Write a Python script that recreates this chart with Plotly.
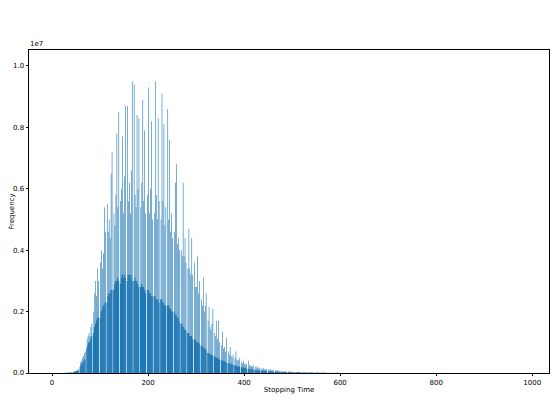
import plotly.graph_objects as go

# stopping time histogram, one value per integer stopping time (in units of 1e5)
# each row is one "tooth" of 14 stopping times, last two are the empty gap
freq_1e5 = [
    0.01, 0.02, 0.01, 0.02, 0.02, 0.03, 0.02, 0.03, 0.03, 0.04, 0.03, 0.05, 0, 0,
    0.05, 0.08, 0.06, 0.1, 0.07, 0.12, 0.08, 0.14, 0.1, 0.16, 0.12, 0.2, 0, 0,
    0.3, 0.5, 0.35, 0.6, 0.4, 0.7, 0.5, 0.8, 0.6, 1.0, 0.7, 1.2, 0, 0,
    2, 3.5, 2.5, 4, 3, 5, 3.5, 5.5, 4, 6.5, 4.5, 7, 0, 0,
    8, 11, 9, 12, 10, 13, 10, 12, 11, 15, 12, 16, 0, 0,
    13, 20, 15, 26, 16, 30, 17, 25, 18, 34, 18, 30, 0, 0,
    18, 36, 20, 40, 21, 34, 22, 39, 22, 54, 23, 46, 0, 0,
    23, 55, 25, 46, 26, 50, 26, 44, 27, 65, 27, 72, 0, 0,
    27, 52, 29, 48, 30, 58, 30, 78, 31, 54, 30, 85, 0, 0,
    29, 56, 31, 60, 32, 77, 31, 52, 32, 64, 31, 87, 0, 0,
    30, 87, 32, 56, 32, 62, 31, 52, 32, 66, 30, 95, 0, 0,
    30, 94, 31, 58, 30, 54, 30, 84, 29, 60, 28, 83, 0, 0,
    28, 54, 29, 62, 28, 89, 28, 56, 27, 79, 26, 52, 0, 0,
    27, 58, 27, 93, 26, 52, 26, 60, 25, 82, 25, 50, 0, 0,
    25, 52, 25, 95, 24, 58, 24, 50, 24, 83, 23, 56, 0, 0,
    24, 50, 24, 91, 23, 56, 23, 81, 22, 48, 22, 54, 0, 0,
    22, 86, 22, 50, 21, 76, 21, 46, 20, 52, 20, 44, 0, 0,
    20, 46, 19, 62, 19, 68, 18, 42, 18, 44, 17, 40, 0, 0,
    16, 40, 16, 38, 15, 62, 15, 38, 14, 44, 14, 36, 0, 0,
    13, 34, 13, 47, 12, 34, 12, 32, 12, 44, 11, 32, 0, 0,
    11, 36, 11, 28, 10, 28, 10, 38, 10, 26, 9.5, 30, 0, 0,
    9, 24, 8.5, 22, 8.5, 31, 8, 20, 8, 22, 7.5, 26, 0, 0,
    6.5, 17, 6.5, 21.5, 6, 15, 6, 14, 6, 16, 5.5, 21, 0, 0,
    5.5, 13, 5, 12, 5, 17, 5, 11, 4.5, 17, 4.5, 10, 0, 0,
    4.2, 9, 4, 13.5, 4, 8, 3.8, 8.5, 3.6, 7, 3.5, 11.5, 0, 0,
    3.2, 7, 3, 6, 3, 8.5, 3, 5.5, 2.8, 5, 2.7, 6, 0, 0,
    2.5, 5, 2.4, 7, 2.3, 4.5, 2.2, 4, 2.1, 4.2, 2, 5, 0, 0,
    1.9, 3.5, 1.8, 3.2, 1.7, 4, 1.7, 3, 1.6, 2.8, 1.5, 3, 0, 0,
    1.4, 4, 1.3, 2.5, 1.3, 2.4, 1.2, 2.2, 1.2, 2, 1.1, 2.6, 0, 0,
    1.0, 2.0, 1.0, 1.8, 0.9, 2.2, 0.9, 1.6, 0.9, 1.5, 0.8, 1.8, 0, 0,
    0.8, 1.5, 0.7, 1.3, 0.7, 1.6, 0.7, 1.2, 0.6, 1.1, 0.6, 1.3, 0, 0,
    0.55, 1.1, 0.5, 1.0, 0.5, 1.2, 0.5, 0.9, 0.45, 0.8, 0.45, 1.0, 0, 0,
    0.42, 0.8, 0.4, 0.75, 0.38, 0.9, 0.36, 0.7, 0.35, 0.6, 0.33, 0.7, 0, 0,
    0.3, 0.6, 0.3, 0.55, 0.28, 0.6, 0.27, 0.5, 0.26, 0.45, 0.25, 0.5, 0, 0,
    0.22, 0.45, 0.21, 0.4, 0.2, 0.42, 0.2, 0.38, 0.19, 0.35, 0.18, 0.4, 0, 0,
    0.16, 0.32, 0.16, 0.3, 0.15, 0.33, 0.15, 0.28, 0.14, 0.26, 0.14, 0.3, 0, 0,
    0.12, 0.25, 0.12, 0.22, 0.11, 0.24, 0.11, 0.2, 0.1, 0.19, 0.1, 0.22, 0, 0,
    0.09, 0.18, 0.09, 0.16, 0.08, 0.18, 0.08, 0.15, 0.08, 0.14, 0.07, 0.16, 0, 0,
    0.07, 0.14, 0.06, 0.12, 0.06, 0.13, 0.06, 0.11, 0.06, 0.1, 0.05, 0.12, 0, 0,
    0.05, 0.1, 0.05, 0.09, 0.05, 0.1, 0.04, 0.08, 0.04, 0.08, 0.04, 0.09, 0, 0,
    0.04, 0.08, 0.04, 0.07, 0.03, 0.07, 0.03, 0.06, 0.03, 0.06, 0.03, 0.07, 0, 0,
    0.03, 0.06, 0.03, 0.05, 0.03, 0.05, 0.02, 0.05, 0.02, 0.04, 0.02, 0.05, 0, 0,
    0.02, 0.04, 0.02, 0.04, 0.02, 0.04, 0.02, 0.03, 0.02, 0.03, 0.02, 0.03, 0, 0,
    0.015, 0.03, 0.015, 0.03, 0.01, 0.03, 0.01, 0.02, 0.01, 0.02, 0.01, 0.02, 0, 0,
    0.01, 0.02, 0.01, 0.02, 0.01, 0.02, 0.01, 0.015, 0.01, 0.015, 0.01, 0.01, 0, 0,
]
first_stop_time = 16
stop_time = list(range(first_stop_time, first_stop_time + len(freq_1e5)))
frequency = [v * 1e5 for v in freq_1e5]

x_ticks = [0, 200, 400, 600, 800, 1000]
y_ticks = [0, 2e6, 4e6, 6e6, 8e6, 1e7]
y_ticktext = ["0.0", "0.2", "0.4", "0.6", "0.8", "1.0"]

blue = "rgba(31,119,180,0.999)"

fig = go.Figure()
# odd stopping times: the thin, tall bars (render light as in matplotlib)
fig.add_trace(go.Bar(x=stop_time[1::2], y=frequency[1::2], width=1.25,
                     marker=dict(color=blue, line=dict(width=0)), hoverinfo="x+y"))
# even stopping times: the lower bars that fill the solid teeth
fig.add_trace(go.Bar(x=stop_time[0::2], y=frequency[0::2], width=2.4, offset=-0.7,
                     marker=dict(color=blue, line=dict(width=0)), hoverinfo="x+y"))

font = dict(family="DejaVu Sans", size=7, color="black")
# page body has an 8px margin, so the figure is shifted by 8px
fig.update_layout(
    width=552, height=412,
    margin=dict(l=21, r=11, t=42, b=47),
    paper_bgcolor="white", plot_bgcolor="white",
    showlegend=False, barmode="overlay", bargap=0.2, font=font,
)
fig.update_xaxes(range=[-48, 1035], tickvals=x_ticks, showgrid=False, zeroline=False,
                 automargin=False,
                 showline=True, mirror=True, linecolor="black", linewidth=0.7,
                 ticks="outside", ticklen=2.5, tickwidth=0.6, tickcolor="black",
                 title=dict(text="Stopping Time", standoff=1, font=font))
fig.update_yaxes(range=[0, 1.052e7], tickvals=y_ticks, ticktext=y_ticktext,
                 showgrid=False, zeroline=False, automargin=False,
                 showline=True, mirror=True, linecolor="black", linewidth=0.7,
                 ticks="outside", ticklen=2.5, tickwidth=0.6, tickcolor="black",
                 title=dict(text="Frequency", standoff=2, font=font))
fig.add_annotation(text="1e7", xref="paper", yref="paper", x=0, y=1,
                   xanchor="left", yanchor="bottom", showarrow=False, font=font,
                   xshift=-1)

fig.write_html("out.html")
